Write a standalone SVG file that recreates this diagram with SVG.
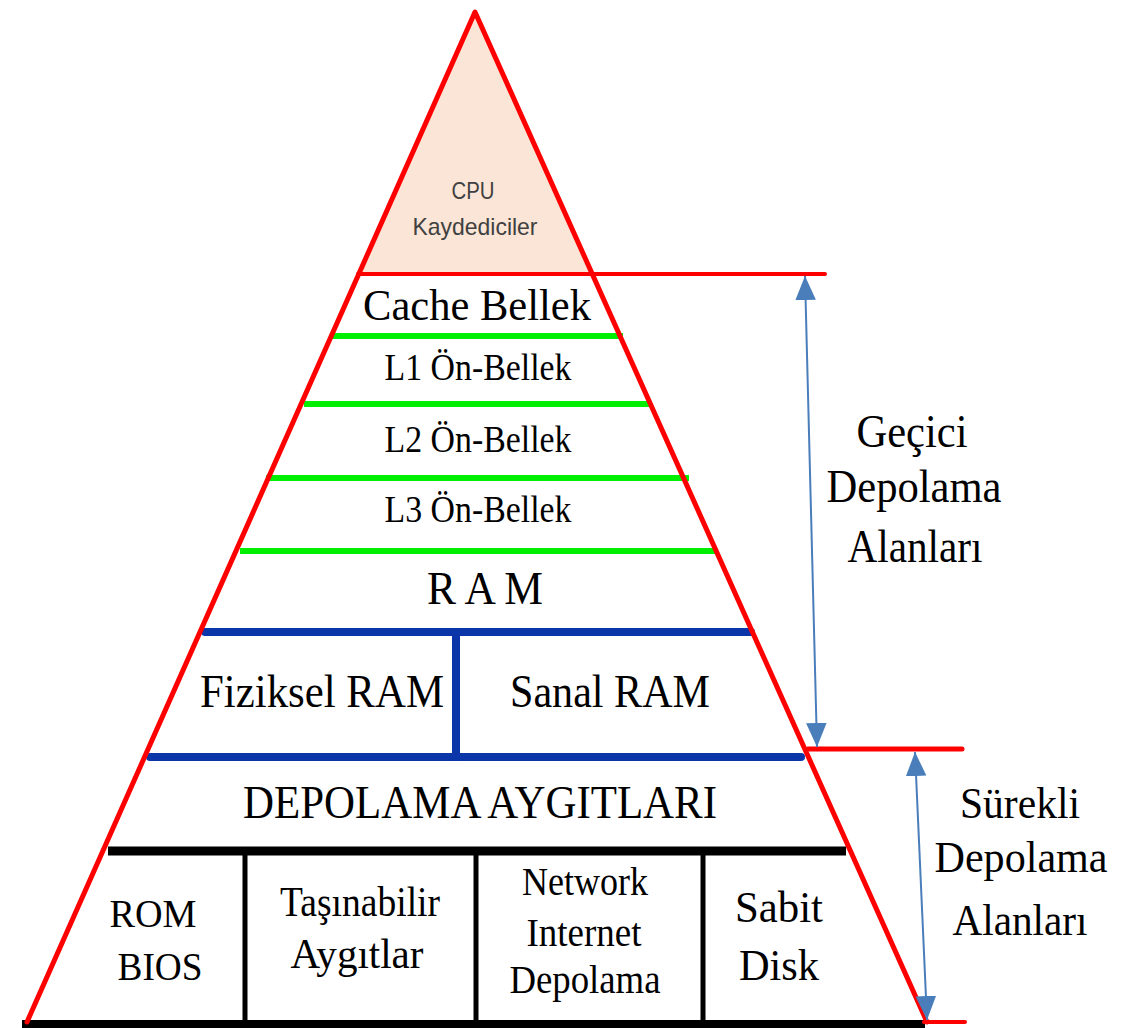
<svg xmlns="http://www.w3.org/2000/svg" width="1130" height="1028" viewBox="0 0 1130 1028">
<style>
  .t { font-family: "Liberation Serif", "Times New Roman", serif; fill: #000; text-anchor: middle; }
  .cpu { font-family: "Liberation Sans", "Open Sans", sans-serif; fill: #404040; text-anchor: middle; font-size: 24px; }
  .red { stroke: #FF0000; fill: none; stroke-linecap: round; }
  .green { stroke: #00EE00; stroke-width: 6; }
  .blue { stroke: #0B36AA; stroke-width: 8; stroke-linecap: round; }
  .black { stroke: #000; }
  .arrow { stroke: #4A7EBB; stroke-width: 2; fill: none; }
</style>
<defs>
  <marker id="ah" markerUnits="userSpaceOnUse" markerWidth="24" markerHeight="28" viewBox="0 0 28 24" refX="28" refY="12" orient="auto-start-reverse">
    <path d="M0,0 L28,12 L0,24 Z" fill="#4A7EBB"/>
  </marker>
</defs>
<rect width="1130" height="1028" fill="#fff"/>

<g id="cpu">
  <polygon points="475,12 358,275 593,275" fill="#FBE5D6"/>
  <text class="cpu" x="473" y="199" textLength="43" lengthAdjust="spacingAndGlyphs">CPU</text>
  <text class="cpu" x="475" y="235" textLength="125" lengthAdjust="spacingAndGlyphs">Kaydediciler</text>
</g>

<g id="dividers">
  <line class="green" x1="330" y1="336" x2="623" y2="336"/>
  <line class="green" x1="304" y1="404" x2="650" y2="404"/>
  <line class="green" x1="266" y1="478" x2="689" y2="478"/>
  <line class="green" x1="240" y1="551" x2="718" y2="551"/>
  <line class="blue" x1="205" y1="632" x2="751" y2="632"/>
  <line class="blue" x1="150" y1="757" x2="801" y2="757"/>
  <line class="blue" x1="456" y1="632" x2="456" y2="757"/>
  <line class="black" stroke-width="9" x1="108" y1="851" x2="846" y2="851"/>
  <line class="black" stroke-width="5" x1="245" y1="851" x2="245" y2="1022"/>
  <line class="black" stroke-width="5" x1="476" y1="851" x2="476" y2="1022"/>
  <line class="black" stroke-width="5" x1="703" y1="851" x2="703" y2="1022"/>
  <line class="black" stroke-width="8" x1="22" y1="1024" x2="925" y2="1024"/>
</g>

<g id="pyramid">
  <polyline class="red" stroke-width="5" stroke-linejoin="round" points="27,1022 475,12 927,1022"/>
  <line class="red" stroke-width="4" x1="358" y1="274" x2="825" y2="274"/>
  <line class="red" stroke-width="5" x1="808" y1="749" x2="962" y2="749"/>
  <line class="red" stroke-width="4" x1="924" y1="1022" x2="965" y2="1022"/>
</g>

<g id="connectors">
  <line class="arrow" x1="805" y1="276" x2="817" y2="747" marker-start="url(#ah)" marker-end="url(#ah)"/>
  <line class="arrow" x1="915" y1="752" x2="927" y2="1020" marker-start="url(#ah)" marker-end="url(#ah)"/>
</g>

<g id="cache">
  <text class="t" x="477" y="320" font-size="44" textLength="228" lengthAdjust="spacingAndGlyphs">Cache Bellek</text>
</g>
<g id="l1"><text class="t" x="478" y="380" font-size="37" textLength="187" lengthAdjust="spacingAndGlyphs">L1 Ön-Bellek</text></g>
<g id="l2"><text class="t" x="478" y="452" font-size="37" textLength="187" lengthAdjust="spacingAndGlyphs">L2 Ön-Bellek</text></g>
<g id="l3"><text class="t" x="478" y="522" font-size="37" textLength="187" lengthAdjust="spacingAndGlyphs">L3 Ön-Bellek</text></g>
<g id="ram"><text class="t" x="485" y="604" font-size="47" textLength="116" lengthAdjust="spacingAndGlyphs">R A M</text></g>
<g id="fiziksel"><text class="t" x="322" y="707" font-size="47" textLength="244" lengthAdjust="spacingAndGlyphs">Fiziksel RAM</text></g>
<g id="sanal"><text class="t" x="610" y="707" font-size="47" textLength="200" lengthAdjust="spacingAndGlyphs">Sanal RAM</text></g>
<g id="depolama-aygitlari"><text class="t" x="480" y="818" font-size="46" textLength="474" lengthAdjust="spacingAndGlyphs">DEPOLAMA AYGITLARI</text></g>

<g id="rom">
  <text class="t" x="153" y="927" font-size="41" textLength="87" lengthAdjust="spacingAndGlyphs">ROM</text>
  <text class="t" x="160" y="980" font-size="41" textLength="85" lengthAdjust="spacingAndGlyphs">BIOS</text>
</g>
<g id="tasinabilir">
  <text class="t" x="360" y="916" font-size="43" textLength="160" lengthAdjust="spacingAndGlyphs">Taşınabilir</text>
  <text class="t" x="357" y="968" font-size="43" textLength="133" lengthAdjust="spacingAndGlyphs">Aygıtlar</text>
</g>
<g id="network">
  <text class="t" x="585" y="895" font-size="40" textLength="126" lengthAdjust="spacingAndGlyphs">Network</text>
  <text class="t" x="584" y="946" font-size="40" textLength="115" lengthAdjust="spacingAndGlyphs">Internet</text>
  <text class="t" x="585" y="993" font-size="40" textLength="151" lengthAdjust="spacingAndGlyphs">Depolama</text>
</g>
<g id="sabit">
  <text class="t" x="779" y="922" font-size="45" textLength="88" lengthAdjust="spacingAndGlyphs">Sabit</text>
  <text class="t" x="779" y="980" font-size="45" textLength="80" lengthAdjust="spacingAndGlyphs">Disk</text>
</g>

<g id="gecici">
  <text class="t" x="912" y="447" font-size="46" textLength="111" lengthAdjust="spacingAndGlyphs">Geçici</text>
  <text class="t" x="914" y="502" font-size="46" textLength="175" lengthAdjust="spacingAndGlyphs">Depolama</text>
  <text class="t" x="915" y="562" font-size="46" textLength="135" lengthAdjust="spacingAndGlyphs">Alanları</text>
</g>
<g id="surekli">
  <text class="t" x="1020" y="818" font-size="45" textLength="120" lengthAdjust="spacingAndGlyphs">Sürekli</text>
  <text class="t" x="1021" y="872" font-size="45" textLength="173" lengthAdjust="spacingAndGlyphs">Depolama</text>
  <text class="t" x="1020" y="935" font-size="45" textLength="135" lengthAdjust="spacingAndGlyphs">Alanları</text>
</g>
</svg>
